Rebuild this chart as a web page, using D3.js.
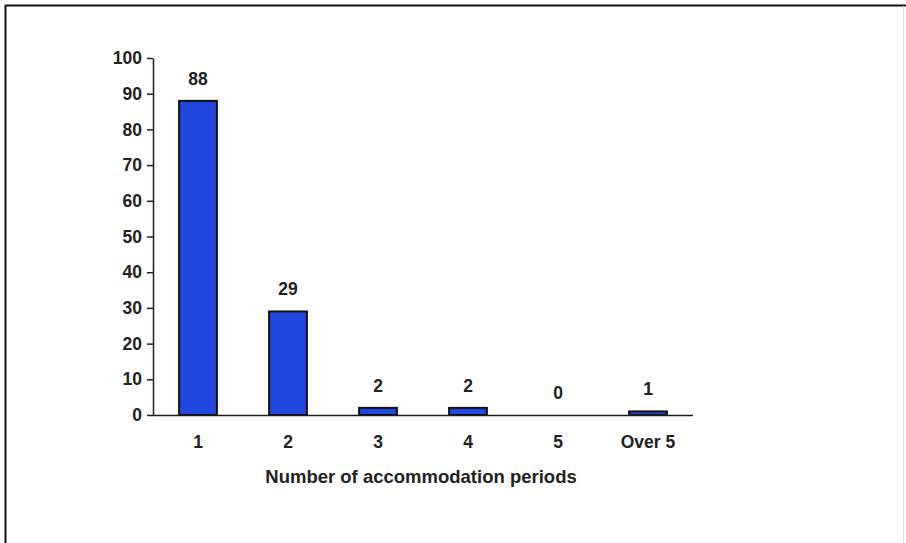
<!DOCTYPE html>
<html><head><meta charset="utf-8">
<script src="https://cdn.jsdelivr.net/npm/d3@7"></script>
<style>body{margin:0;background:#fff}svg{display:block}text{font-family:Arial,"Liberation Sans",sans-serif;font-weight:bold;fill:#222}</style>
</head><body><svg id="c" width="906" height="543"></svg>
<script>
const categories = ["1","2","3","4","5","Over 5"];
const values = [88, 29, 2, 2, 0, 1];
const yTicks = [0,10,20,30,40,50,60,70,80,90,100];
const xTitle = "Number of accommodation periods";

const svg = d3.select("#c");
// frame
svg.append("line").attr("x1",5).attr("x2",906).attr("y1",5.5).attr("y2",5.5).attr("stroke","#111").attr("stroke-width",2);
svg.append("line").attr("x1",5.5).attr("x2",5.5).attr("y1",5).attr("y2",543).attr("stroke","#111").attr("stroke-width",2);
svg.append("line").attr("x1",903.5).attr("x2",903.5).attr("y1",6).attr("y2",543).attr("stroke","#ddd").attr("stroke-width",1);

const pLeft = 153, pRight = 693, pTop = 58, pBottom = 415;
const x = d3.scaleBand().domain(categories).range([pLeft, pRight]).paddingInner(0.58).paddingOuter(0.29);
const y = d3.scaleLinear().domain([0,100]).range([pBottom, pTop]);
const fs = "17.5px";

// bars
svg.selectAll("rect.bar").data(values).enter().append("rect")
  .attr("class","bar")
  .attr("x",(d,i)=>x(categories[i]))
  .attr("width",x.bandwidth())
  .attr("y",d=>y(d))
  .attr("height",d=>y(0)-y(d))
  .attr("fill","#2247de").attr("stroke","#111").attr("stroke-width",2);

// y axis
const ya = svg.append("g").attr("transform",`translate(${pLeft},0)`)
  .call(d3.axisLeft(y).tickValues(yTicks).tickSize(6).tickSizeOuter(0).tickPadding(5));
ya.select(".domain").attr("stroke","#2a1a1a").attr("stroke-width",1.5);
ya.selectAll(".tick line").attr("stroke","#2a1a1a").attr("stroke-width",1.5);
ya.selectAll(".tick text").style("font-size",fs).attr("fill","#222").attr("font-family","Arial, 'Liberation Sans', sans-serif");

// x axis line
svg.append("line").attr("x1",pLeft).attr("x2",pRight).attr("y1",pBottom+0.5).attr("y2",pBottom+0.5).attr("stroke","#1a1a1a").attr("stroke-width",1.5);
// x labels
svg.selectAll("text.xl").data(categories).enter().append("text")
  .attr("class","xl").attr("x",d=>x(d)+x.bandwidth()/2).attr("y",448)
  .attr("text-anchor","middle").style("font-size",fs).text(d=>d);

// value labels
svg.selectAll("text.vl").data(values).enter().append("text")
  .attr("class","vl").attr("x",(d,i)=>x(categories[i])+x.bandwidth()/2).attr("y",d=>y(d)-16)
  .attr("text-anchor","middle").style("font-size",fs).text(d=>d);

svg.append("text").attr("x",421).attr("y",483).attr("text-anchor","middle").style("font-size","18.5px").text(xTitle);
</script></body></html>
